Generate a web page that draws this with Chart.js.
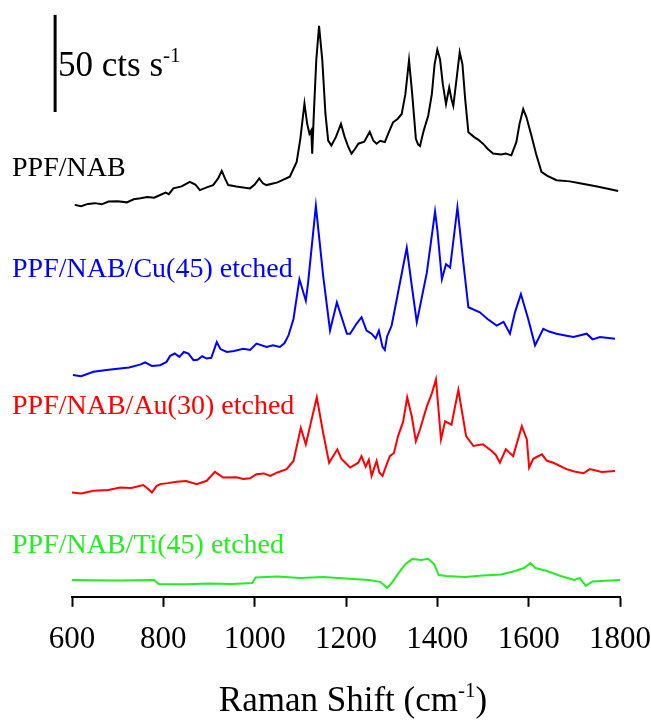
<!DOCTYPE html>
<html>
<head>
<meta charset="utf-8">
<script src="https://cdn.jsdelivr.net/npm/chart.js@4/dist/chart.umd.min.js"></script>
<style>
  html, body { margin: 0; padding: 0; background: #fff; }
  #wrap { width: 651px; height: 724px; }
</style>
</head>
<body>
<div id="wrap"><canvas id="myChart" width="651" height="724"></canvas></div>
<script>
// Raman spectra, intensity in cts/s (before stacking offset)
var blackX = [606,620,635,650,665,680,700,720,735,750,765,780,793,805,812,822,840,858,870,880,895,909,920,928,935,942,960,975,990,1000,1010,1018,1026,1050,1077,1092,1100,1109,1115,1120,1124,1126,1130,1135,1141,1148,1155,1161,1168,1178,1189,1197,1205,1212,1220,1227,1240,1252,1260,1267,1275,1285,1295,1303,1313,1322,1330,1338,1345,1353,1358,1362,1370,1380,1388,1394,1400,1406,1412,1419,1426,1431,1435,1442,1449,1455,1461,1468,1480,1490,1500,1510,1522,1540,1550,1562,1573,1580,1588,1595,1606,1616,1628,1640,1661,1690,1712,1750,1796];
var blackY = [6.7,6.0,7.2,7.6,7.0,8.4,8.6,8.0,9.6,10.1,10.8,10.4,11.8,13.0,12.2,15.2,16.2,18.6,17.2,14.3,15.7,16.9,20.3,24.2,20.3,16.9,16.2,15.7,15.2,17.2,20.3,17.8,16.9,18.3,21.2,28.8,40.7,58.9,48.4,43.3,45.0,33.1,56.0,81.5,98.9,81.5,53.5,39.8,37.3,41.7,48.4,41.7,36.5,33.1,35.6,38.2,39.2,44.3,39.7,38.2,39.7,39.0,44.8,49.2,50.9,53.5,63.7,81.2,63.7,40.7,37.7,37.0,44.8,52.6,63.7,79.0,86.6,81.5,68.8,58.6,67.1,61.1,57.7,71.3,85.3,79.0,61.1,44.1,41.7,40.2,38.2,35.6,33.1,32.6,33.1,32.2,39.0,48.4,56.0,51.9,42.4,33.1,23.7,21.8,19.4,18.8,17.8,16.2,13.8];

var blueX = [602,620,647,680,705,725,749,760,775,793,807,815,825,835,845,855,866,875,885,895,905,917,925,939,955,975,990,1004,1026,1040,1055,1065,1074,1085,1098,1112,1117,1134,1150,1165,1180,1202,1209,1223,1234,1245,1256,1265,1272,1280,1285,1290,1300,1314,1333,1344,1355,1377,1395,1400,1410,1419,1428,1444,1457,1468,1493,1510,1530,1545,1559,1570,1583,1599,1614,1632,1645,1661,1680,1698,1727,1740,1756,1789];
var blueY = [4.1,3.5,5.8,6.8,7.5,8.0,9.5,10.6,8.8,9.2,10.9,14.0,15.2,13.5,16.0,15.2,11.8,12.0,13.8,12.6,13.0,21.1,17.5,16.0,16.5,17.7,17.0,20.3,18.6,19.5,18.6,20.5,24.5,33.0,53.4,42.4,51.7,91.2,55.2,27.1,41.5,25.4,25.4,30.5,33.9,27.0,25.4,23.0,27.0,18.6,17.0,24.0,29.6,46.6,69.6,50.1,31.3,56.8,88.3,78.9,53.4,61.1,59.4,90.5,61.9,39.0,36.4,33.0,29.6,31.5,25.4,36.4,45.8,33.0,19.4,27.9,26.5,25.4,24.5,23.7,25.4,22.5,23.7,22.8];

var redX = [599,620,647,680,705,730,756,767,775,785,793,810,829,850,873,895,913,931,960,975,990,1004,1020,1034,1050,1070,1085,1101,1112,1136,1150,1163,1181,1190,1202,1209,1227,1234,1243,1250,1256,1267,1273,1280,1288,1296,1305,1314,1325,1334,1344,1353,1362,1377,1388,1397,1402,1408,1417,1431,1446,1463,1479,1500,1519,1528,1537,1550,1566,1585,1596,1601,1610,1629,1640,1654,1683,1700,1720,1734,1760,1789];
var redY = [3.7,3.2,4.6,5.0,6.3,6.0,7.5,5.5,3.7,7.0,8.0,8.5,9.2,9.6,8.0,9.7,14.3,11.4,11.5,10.6,11.0,13.1,13.5,12.2,14.0,15.7,19.9,36.9,28.4,52.7,34.3,19.0,25.9,21.0,18.2,16.5,19.0,22.4,17.0,20.5,12.2,19.9,14.0,12.2,17.5,22.4,24.0,32.7,40.0,52.7,42.9,30.1,36.1,48.0,54.7,61.9,48.0,31.0,40.3,38.6,56.5,32.7,27.6,28.5,25.0,23.0,19.0,26.0,22.4,37.8,31.0,16.5,21.0,23.3,20.0,19.0,15.7,14.5,13.6,15.7,14.2,14.8];

var greenX = [600,700,780,790,850,900,950,995,1002,1050,1100,1150,1200,1250,1275,1290,1300,1315,1330,1345,1365,1380,1393,1403,1420,1460,1500,1540,1570,1590,1604,1615,1640,1670,1700,1712,1725,1740,1800];
var greenY = [8.6,8.4,8.6,6.6,6.4,6.9,6.6,7.1,9.9,10.5,9.7,10.2,9.4,8.7,7.7,4.6,7.1,12.2,16.8,19.4,18.9,19.6,16.8,11.2,10.7,10.2,11.0,11.5,13.3,14.8,17.3,14.8,13.3,10.7,8.7,9.7,5.6,7.9,8.7];

var names = ['PPF/NAB', 'PPF/NAB/Cu(45) etched', 'PPF/NAB/Au(30) etched', 'PPF/NAB/Ti(45) etched'];
var colors = ['#000000', '#0000ff', '#ff0000', '#22ee22'];
var offsets = [195, 110, 50, 0];
var xTicks = [600, 800, 1000, 1200, 1400, 1600, 1800];
var scaleBar = 50; // cts s-1

var serif = '"Liberation Serif", "Times New Roman", serif';

function stack(xs, ys, off) {
  var out = [];
  for (var i = 0; i < xs.length; i++) out.push({x: xs[i], y: ys[i] + off});
  return out;
}

var series = [[blackX, blackY], [blueX, blueY], [redX, redY], [greenX, greenY]];
var datasets = [];
for (var s = 0; s < series.length; s++) {
  datasets.push({
    label: names[s],
    data: stack(series[s][0], series[s][1], offsets[s]),
    borderColor: colors[s],
    borderWidth: 2,
    pointRadius: 0,
    tension: 0,
    fill: false
  });
}

// text with a raised part, e.g. s^-1
function supText(ctx, x, y, base, sup, tail, size, align) {
  ctx.font = size + 'px ' + serif;
  var w1 = ctx.measureText(base).width;
  var w3 = tail ? ctx.measureText(tail).width : 0;
  ctx.font = Math.round(size * 0.6) + 'px ' + serif;
  var w2 = ctx.measureText(sup).width;
  if (align == 'center') x = x - (w1 + w2 + w3) / 2;
  ctx.textAlign = 'left';
  ctx.font = size + 'px ' + serif;
  ctx.fillText(base, x, y);
  ctx.font = Math.round(size * 0.6) + 'px ' + serif;
  ctx.fillText(sup, x + w1, y - size * 0.4);
  if (tail) {
    ctx.font = size + 'px ' + serif;
    ctx.fillText(tail, x + w1 + w2, y);
  }
}

var labelBase = [176, 277, 414, 553];

var annot = {
  id: 'annot',
  afterDraw: function(chart) {
    var ctx = chart.ctx;
    var xs = chart.scales.x, ys = chart.scales.y;
    ctx.save();
    // scale bar
    var bx = xs.getPixelForValue(563);
    ctx.strokeStyle = '#000';
    ctx.lineWidth = 3;
    ctx.beginPath();
    ctx.moveTo(bx, ys.getPixelForValue(249.5));
    ctx.lineTo(bx, ys.getPixelForValue(249.5 + scaleBar));
    ctx.stroke();
    ctx.fillStyle = '#000';
    ctx.textBaseline = 'alphabetic';
    supText(ctx, 58, 76, scaleBar + ' cts s', '-1', '', 35);
    // series names
    ctx.font = '28px ' + serif;
    ctx.textAlign = 'left';
    for (var i = 0; i < names.length; i++) {
      ctx.fillStyle = colors[i];
      ctx.fillText(names[i], 12, labelBase[i]);
    }
    // axis title
    ctx.fillStyle = '#000';
    supText(ctx, 353, 711, 'Raman Shift (cm', '-1', ')', 35, 'center');
    ctx.restore();
  }
};

new Chart('myChart', {
  type: 'line',
  data: { datasets: datasets },
  options: {
    responsive: false,
    animation: false,
    events: [],
    layout: { padding: { left: 72, right: 31, top: 10, bottom: 52 } },
    plugins: { legend: { display: false }, tooltip: { enabled: false } },
    scales: {
      x: {
        type: 'linear',
        min: 600,
        max: 1800,
        afterBuildTicks: function(axis) {
          axis.ticks = xTicks.map(function(v) { return {value: v}; });
        },
        afterFit: function(axis) {
          axis.paddingLeft = 0;
          axis.paddingRight = 0;
        },
        ticks: {
          color: '#000', padding: 14, maxRotation: 0,
          font: { family: serif, size: 31 },
          callback: function(v) { return String(v); }
        },
        grid: { display: true, drawOnChartArea: false, drawTicks: true, tickLength: 10, tickWidth: 2, tickColor: '#000' },
        border: { display: true, color: '#000', width: 2 }
      },
      y: {
        display: false,
        min: 0,
        max: 302
      }
    }
  },
  plugins: [annot]
});
</script>
</body>
</html>
